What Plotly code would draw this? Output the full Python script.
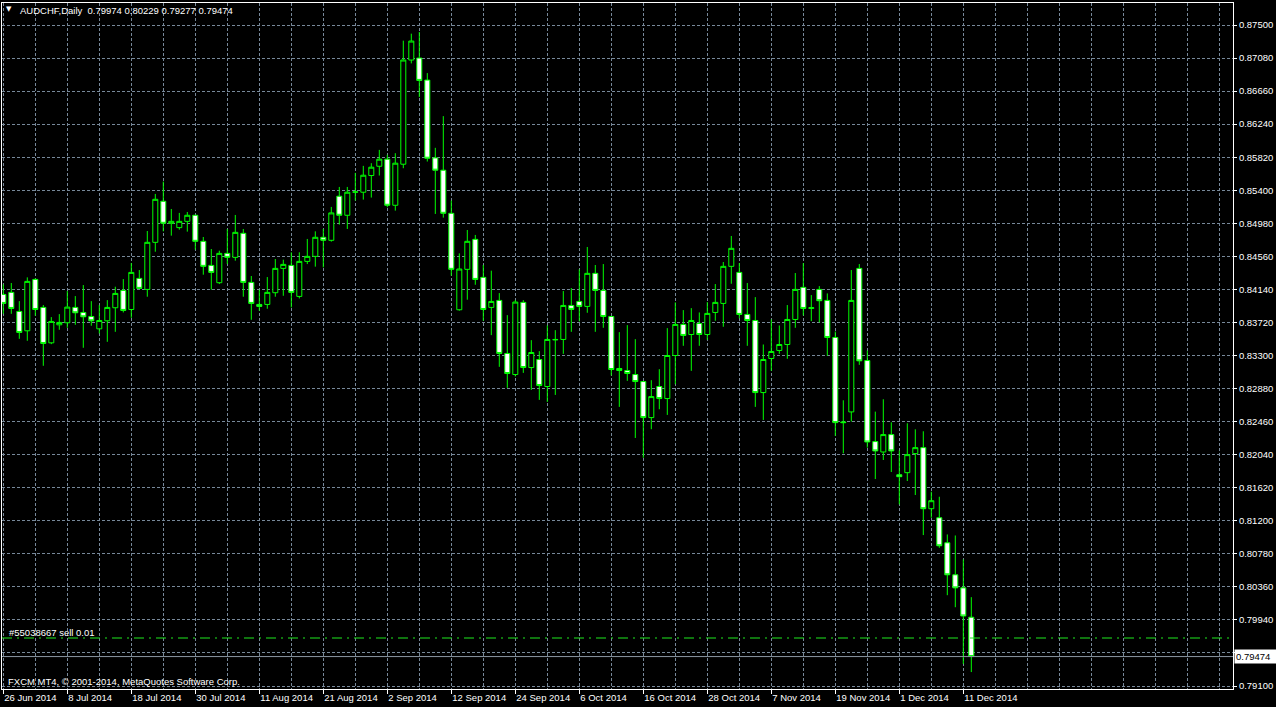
import numpy as np
import pandas as pd
import plotly.graph_objects as go

# ---- data ----
dates = pd.bdate_range("2014-06-26", periods=122).strftime("%Y.%m.%d").tolist()

opens = [0.84076, 0.84102, 0.83860, 0.83614, 0.84267, 0.83911, 0.83461, 0.83690, 0.83716, 0.83911,
         0.83847, 0.83796, 0.83639, 0.83741, 0.83907, 0.84127, 0.83885, 0.84280, 0.84140, 0.84738,
         0.85260, 0.84980, 0.84925, 0.85005, 0.85082, 0.84751, 0.84445, 0.84225, 0.84598, 0.84547,
         0.84853, 0.84229, 0.83949, 0.83949, 0.84098, 0.84407, 0.84445, 0.84051, 0.84496, 0.84560,
         0.84802, 0.84764, 0.85324, 0.85082, 0.85375, 0.85375, 0.85587, 0.85705, 0.85795, 0.85209,
         0.85731, 0.87055, 0.87080, 0.86800, 0.85811, 0.85655, 0.85107, 0.83881, 0.84395, 0.84776,
         0.84293, 0.83911, 0.84000, 0.83326, 0.83058, 0.83975, 0.83147, 0.83249, 0.82906, 0.83504,
         0.83504, 0.83936, 0.83987, 0.83924, 0.84344, 0.84127, 0.83796, 0.83135, 0.83109, 0.83058,
         0.82969, 0.82511, 0.82906, 0.82753, 0.83300, 0.83695, 0.83567, 0.83707, 0.83567, 0.83847,
         0.83962, 0.84433, 0.84356, 0.83822, 0.83745, 0.82829, 0.83262, 0.83364, 0.83440, 0.83758,
         0.84166, 0.83898, 0.84140, 0.84000, 0.83529, 0.82456, 0.82583, 0.84407, 0.83236, 0.82206,
         0.82074, 0.82295, 0.81785, 0.81811, 0.82053, 0.82129, 0.81353, 0.81238, 0.80920, 0.80513,
         0.80347, 0.79974]
highs = [0.84204, 0.84221, 0.83991, 0.84293, 0.84280, 0.83941, 0.83788, 0.83826, 0.84119, 0.84055,
         0.84195, 0.83991, 0.83941, 0.84004, 0.84174, 0.84271, 0.84475, 0.84386, 0.84882, 0.85353,
         0.85510, 0.85162, 0.85112, 0.85124, 0.85086, 0.84806, 0.84653, 0.84632, 0.84908, 0.85086,
         0.84908, 0.84310, 0.84136, 0.84297, 0.84526, 0.84518, 0.84611, 0.84611, 0.84781, 0.84878,
         0.84908, 0.85188, 0.85442, 0.85442, 0.85621, 0.85710, 0.85744, 0.85913, 0.85850, 0.85871,
         0.87301, 0.87390, 0.87411, 0.86889, 0.85939, 0.86342, 0.85269, 0.84598, 0.84895, 0.84832,
         0.84450, 0.84378, 0.84093, 0.83813, 0.84004, 0.84004, 0.83495, 0.83355, 0.83682, 0.83622,
         0.84119, 0.84157, 0.84395, 0.84679, 0.84450, 0.84462, 0.83800, 0.83597, 0.83686, 0.83508,
         0.82975, 0.82986, 0.83126, 0.83648, 0.83975, 0.83877, 0.83902, 0.83847, 0.83979, 0.84208,
         0.84488, 0.84819, 0.84475, 0.84221, 0.84042, 0.83440, 0.83758, 0.83682, 0.83941, 0.84348,
         0.84475, 0.84068, 0.84182, 0.84089, 0.83605, 0.82731, 0.84386, 0.84462, 0.83364, 0.82587,
         0.82744, 0.82451, 0.82095, 0.82439, 0.82362, 0.82337, 0.81569, 0.81505, 0.81026, 0.81013,
         0.80708, 0.80229]
lows = [0.83830, 0.83830, 0.83512, 0.83487, 0.83805, 0.83169, 0.83444, 0.83627, 0.83652, 0.83690,
        0.83398, 0.83678, 0.83580, 0.83474, 0.83601, 0.83847, 0.83779, 0.84144, 0.84047, 0.84619,
        0.84878, 0.84823, 0.84899, 0.84874, 0.84645, 0.84327, 0.84136, 0.84208, 0.84462, 0.84505,
        0.84047, 0.83754, 0.83869, 0.83894, 0.84047, 0.84059, 0.83911, 0.84025, 0.84462, 0.84429,
        0.84420, 0.84747, 0.84963, 0.84908, 0.85269, 0.85281, 0.85307, 0.85587, 0.85184, 0.85141,
        0.85680, 0.87012, 0.86584, 0.85765, 0.85099, 0.85052, 0.84314, 0.83870, 0.84009, 0.84199,
        0.83741, 0.83559, 0.83156, 0.82889, 0.83033, 0.83079, 0.82863, 0.82736, 0.82710, 0.82799,
        0.83321, 0.83601, 0.83733, 0.83843, 0.83601, 0.83652, 0.83046, 0.82647, 0.82978, 0.82252,
        0.82000, 0.82363, 0.82617, 0.82545, 0.82935, 0.83423, 0.83105, 0.83423, 0.83499, 0.83741,
        0.83665, 0.84212, 0.83771, 0.83423, 0.82647, 0.82481, 0.83105, 0.83321, 0.83258, 0.83652,
        0.83809, 0.83737, 0.83720, 0.83296, 0.82278, 0.82057, 0.82460, 0.83181, 0.82129, 0.81730,
        0.81972, 0.81819, 0.81408, 0.81705, 0.81527, 0.81018, 0.81238, 0.80856, 0.80254, 0.80101,
        0.79380, 0.79277]
closes = [0.83962, 0.83898, 0.83593, 0.84242, 0.83885, 0.83453, 0.83733, 0.83720, 0.83915, 0.83843,
          0.83792, 0.83741, 0.83745, 0.83911, 0.84089, 0.83873, 0.84356, 0.84153, 0.84738, 0.85285,
          0.84980, 0.85005, 0.85005, 0.85082, 0.84751, 0.84433, 0.84356, 0.84598, 0.84547, 0.84865,
          0.84229, 0.83962, 0.83924, 0.84102, 0.84407, 0.84458, 0.84102, 0.84496, 0.84560, 0.84802,
          0.84764, 0.85112, 0.85082, 0.85375, 0.85379, 0.85591, 0.85693, 0.85795, 0.85209, 0.85744,
          0.87055, 0.87296, 0.86796, 0.85807, 0.85655, 0.85107, 0.84395, 0.84399, 0.84751, 0.84267,
          0.83885, 0.83987, 0.83326, 0.83071, 0.83979, 0.83147, 0.83338, 0.82918, 0.83504, 0.83500,
          0.83936, 0.83886, 0.83924, 0.84344, 0.84127, 0.83796, 0.83122, 0.83109, 0.83071, 0.82969,
          0.82511, 0.82778, 0.82753, 0.83300, 0.83695, 0.83555, 0.83745, 0.83567, 0.83835, 0.83975,
          0.84433, 0.84662, 0.83822, 0.83745, 0.82829, 0.83249, 0.83351, 0.83440, 0.83758, 0.84140,
          0.83898, 0.83907, 0.83996, 0.83529, 0.82447, 0.82447, 0.84000, 0.83232, 0.82201, 0.82087,
          0.82295, 0.82087, 0.81760, 0.82040, 0.82129, 0.81353, 0.81455, 0.80882, 0.80513, 0.80347,
          0.79990, 0.79474]

date_tick_labels = ["26 Jun 2014", "8 Jul 2014", "18 Jul 2014", "30 Jul 2014", "11 Aug 2014",
                    "21 Aug 2014", "2 Sep 2014", "12 Sep 2014", "24 Sep 2014", "6 Oct 2014",
                    "16 Oct 2014", "28 Oct 2014", "7 Nov 2014", "19 Nov 2014", "1 Dec 2014",
                    "11 Dec 2014"]
price_ticks = [0.79100, 0.79520, 0.79940, 0.80360, 0.80780, 0.81200, 0.81620, 0.82040, 0.82460,
               0.82880, 0.83300, 0.83720, 0.84140, 0.84560, 0.84980, 0.85400, 0.85820, 0.86240,
               0.86660, 0.87080, 0.87500]
price_tick_labels = ["%.5f" % v for v in price_ticks]

symbol = "AUDCHF,Daily"
last_bar = (0.79974, 0.80229, 0.79277, 0.79474)
bid_price = 0.79474
order_price = 0.79710
order_label = "#55038667 sell 0.01"
copyright_text = "FXCM MT4, © 2001-2014, MetaQuotes Software Corp."

# ---- layout geometry ----
W, H = 1276, 707
ML, MR, MT, MB = 2, 43, 3, 18
PW, PH = W - ML - MR, H - MT - MB
BAR_PX = 8.0
x0 = -1.3 / BAR_PX
x1 = x0 + PW / BAR_PX
y_top, y_bot = 0.877796, 0.790619

def px_x(px):
    return (px - ML) / PW

def px_y(py):
    return (H - MB - py) / PH

FONT = "Liberation Sans"
FS = 9.5
GRID = "#778899"
GREEN = "#00ff00"

xpos = np.arange(len(dates))
label_pos = [int(i * 8) for i in range(len(date_tick_labels))]

fig = go.Figure()
fig.add_trace(go.Candlestick(
    x=xpos, open=opens, high=highs, low=lows, close=closes,
    text=dates, hoverinfo="text+y",
    increasing=dict(line=dict(color=GREEN, width=1), fillcolor="#000000"),
    decreasing=dict(line=dict(color=GREEN, width=1), fillcolor="#ffffff"),
    whiskerwidth=0, showlegend=False,
))

shapes = [
    dict(type="line", xref="paper", x0=0, x1=1, yref="y", y0=bid_price, y1=bid_price,
         line=dict(color="#8a96a3", width=1), layer="above"),
    dict(type="line", xref="paper", x0=0, x1=1, yref="y", y0=order_price, y1=order_price,
         line=dict(color="#1ee81e", width=1, dash="10px,5px,2px,5px"), layer="above"),
]

annotations = [
    dict(xref="paper", yref="paper", x=px_x(9), y=px_y(9.5), text="▼", showarrow=False,
         xanchor="center", yanchor="middle", font=dict(family="DejaVu Sans", size=7, color="#ffffff")),
    dict(xref="paper", yref="paper", x=px_x(18), y=px_y(10.5),
         text=symbol + "  " + " ".join("%.5f" % v for v in last_bar), showarrow=False,
         xanchor="left", yanchor="middle", font=dict(family=FONT, size=FS, color="#ffffff")),
    dict(xref="paper", yref="paper", x=px_x(7), y=px_y(632.5), text=order_label, showarrow=False,
         xanchor="left", yanchor="middle", font=dict(family=FONT, size=FS, color="#ffffff")),
    dict(xref="paper", yref="paper", x=px_x(6), y=px_y(681), text=copyright_text, showarrow=False,
         xanchor="left", yanchor="middle", font=dict(family=FONT, size=FS, color="#ffffff")),
    dict(xref="paper", yref="y", x=1, y=bid_price, text="%.5f" % bid_price, showarrow=False,
         xanchor="left", yanchor="middle", xshift=1, bgcolor="#ffffff", borderpad=1,
         width=40, align="left",
         font=dict(family=FONT, size=FS, color="#000000")),
]

fig.update_layout(
    width=W, height=H,
    margin=dict(l=ML, r=MR, t=MT, b=MB, autoexpand=False),
    paper_bgcolor="#000000", plot_bgcolor="#000000",
    boxgap=0.375, boxgroupgap=0,
    shapes=shapes, annotations=annotations,
    hovermode="closest",
    font=dict(family=FONT, size=FS, color="#ffffff"),
)
fig.update_xaxes(
    type="linear", range=[x0, x1], rangeslider=dict(visible=False),
    tickmode="array", tickvals=label_pos, ticktext=date_tick_labels,
    ticklabelposition="outside right",
    ticks="outside", ticklen=4, tickcolor="#ffffff", tickwidth=1,
    tickfont=dict(family=FONT, size=FS, color="#ffffff"),
    showgrid=True, gridcolor=GRID, griddash="3px,2px", gridwidth=1,
    minor=dict(tick0=0, dtick=4, showgrid=True, gridcolor=GRID, griddash="3px,2px",
               gridwidth=1, ticks=""),
    showline=True, linecolor="#ffffff", linewidth=1, mirror=True, zeroline=False,
)
fig.update_yaxes(
    side="right", range=[y_bot, y_top],
    tickmode="array", tickvals=price_ticks, ticktext=price_tick_labels,
    ticks="outside", ticklen=3, tickcolor="#ffffff", tickwidth=1,
    tickfont=dict(family=FONT, size=FS, color="#ffffff"),
    showgrid=True, gridcolor=GRID, griddash="3px,2px", gridwidth=1,
    showline=True, linecolor="#ffffff", linewidth=1, mirror=True, zeroline=False,
)

fig.write_html(
    "out.html",
    config={"displayModeBar": False},
    post_script="document.body.style.margin='0';document.body.style.overflow='hidden';",
)
